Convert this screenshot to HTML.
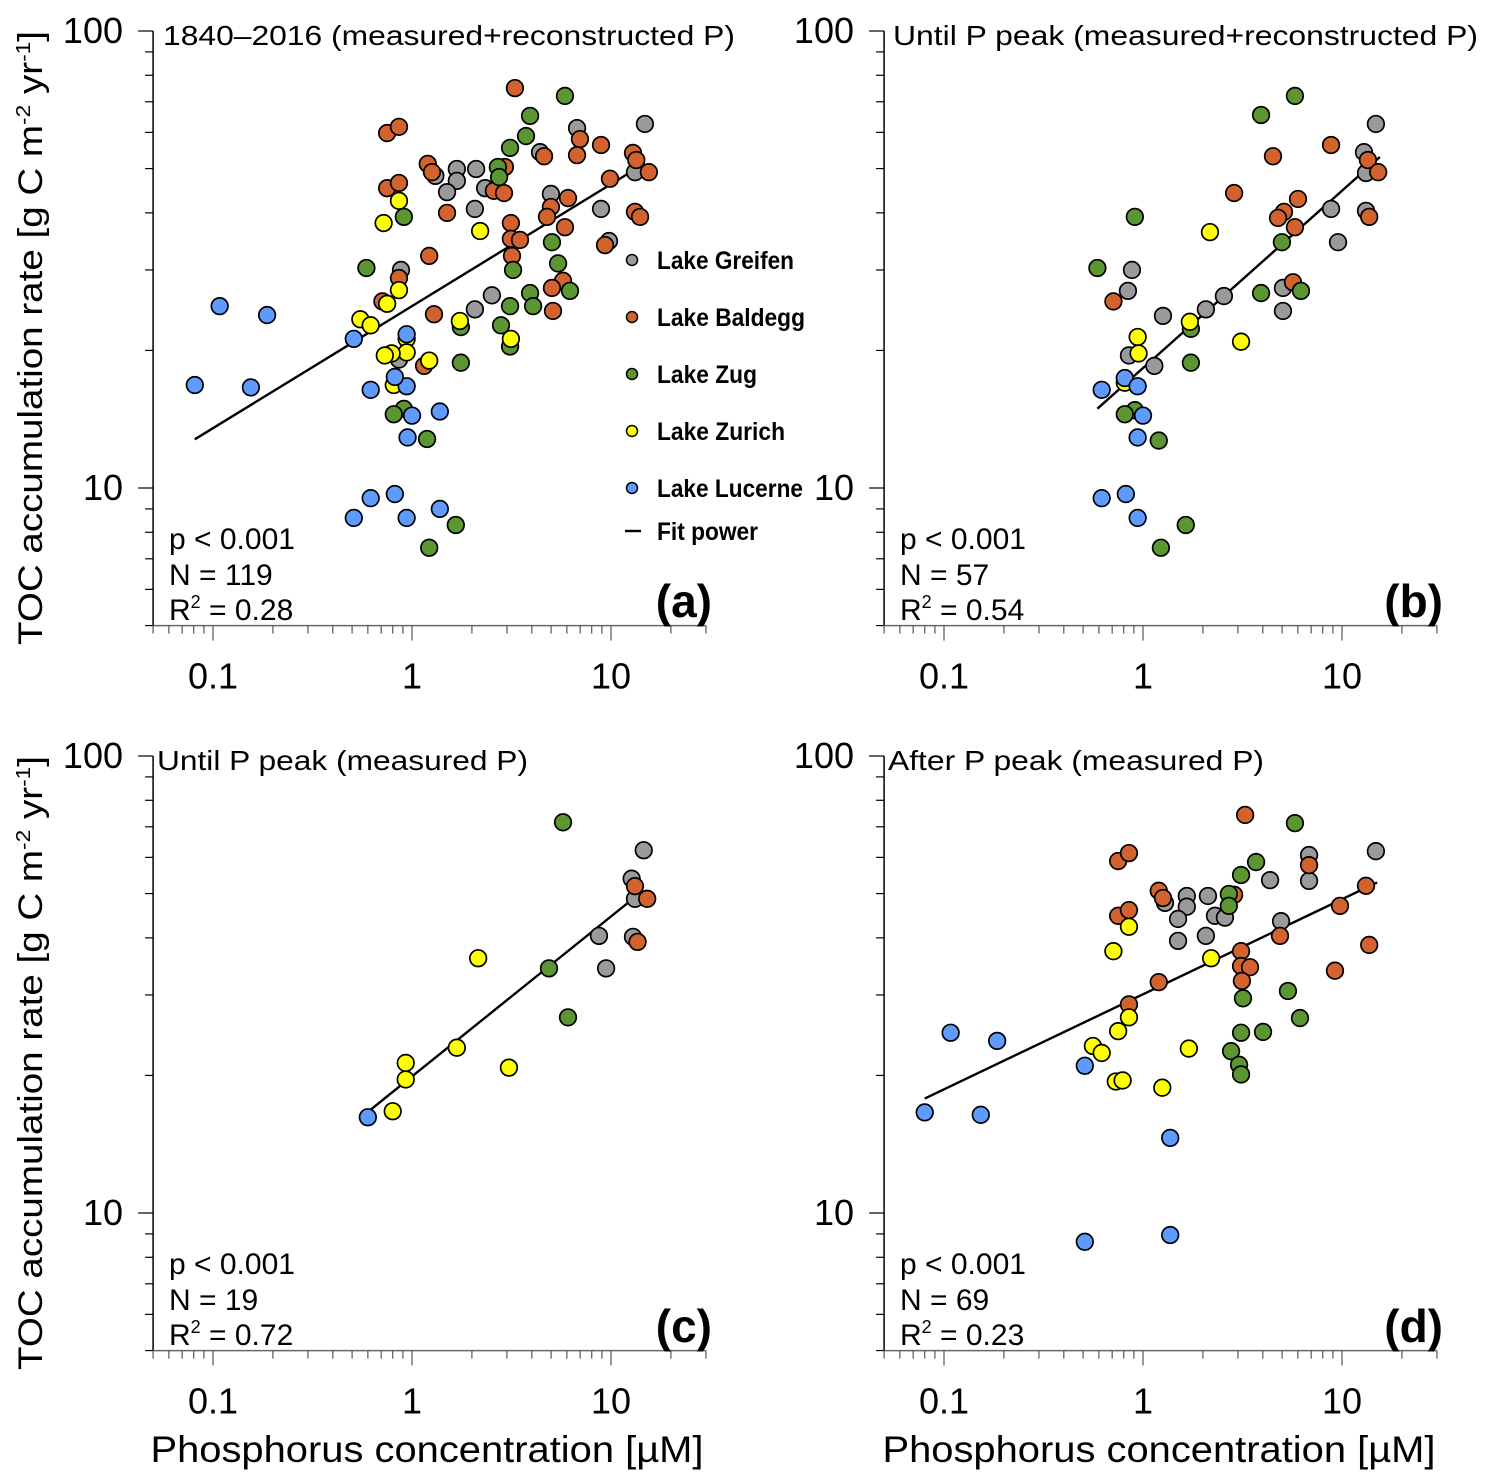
<!DOCTYPE html>
<html><head><meta charset="utf-8"><style>
html,body{margin:0;padding:0;background:#fff;}
svg{display:block;font-family:"Liberation Sans",Arial,sans-serif;}
</style></head><body>
<svg id="fig" width="1490" height="1484" viewBox="0 0 1490 1484" xmlns="http://www.w3.org/2000/svg"></svg>
<script>
// ---- data: [P (µM), TOC (g C m-2 yr-1)] ----
const lakes = ["Lake Greifen","Lake Baldegg","Lake Zug","Lake Zurich","Lake Lucerne"];
const colors = ["#9a9a9a","#d2632f","#5b9632","#ffff00","#5f9bff"];

const aGreifen = [[0.88,30.0],[6.75,61.3],[14.8,62.6],[4.4,54.3],[1.31,48.2],[1.68,49.9],[1.68,47.0],[2.1,49.9],[2.33,45.3],[1.5,44.4],[13.2,49.1],[4.99,44.0],[2.07,40.8],[8.91,40.8],[9.77,34.7],[2.52,26.4],[2.07,24.6],[0.86,19.1]];
const aBaldegg = [[0.75,59.8],[0.86,61.7],[0.75,45.3],[0.86,46.5],[1.2,51.2],[1.22,32.2],[0.86,28.8],[0.71,25.6],[1.15,18.5],[1.26,49.1],[3.29,75.0],[6.98,58.0],[8.91,56.3],[4.61,53.2],[6.75,53.5],[2.93,50.4],[2.58,44.7],[2.9,44.2],[12.9,54.1],[13.4,52.2],[15.5,49.1],[9.88,47.5],[6.08,43.1],[4.99,41.2],[4.77,39.2],[5.87,37.2],[1.5,40.0],[13.2,40.2],[14.0,39.2],[3.14,38.0],[3.14,35.1],[3.49,34.9],[3.18,32.2],[9.33,34.0],[5.74,28.4],[5.05,27.4],[5.11,24.4],[1.29,24.0]];
const aZug = [[0.91,39.2],[0.59,30.3],[0.91,14.9],[0.81,14.5],[1.19,12.8],[1.22,7.4],[1.66,8.3],[5.87,72.1],[3.92,65.2],[3.74,58.9],[3.11,55.5],[2.7,50.4],[2.74,47.9],[5.05,34.5],[5.42,31.0],[3.22,30.0],[6.22,27.0],[3.92,26.7],[4.06,25.0],[3.11,25.0],[1.76,22.5],[2.8,22.7],[3.11,20.4],[1.76,18.8]];
const aZurich = [[0.86,42.5],[0.72,38.0],[0.86,27.1],[0.75,25.3],[0.55,23.4],[0.62,22.7],[0.94,21.2],[0.94,19.8],[0.79,19.7],[0.73,19.5],[0.81,16.8],[1.22,19.0],[2.2,36.5],[1.74,23.2],[3.14,21.2]];
const aLucerne = [[0.108,25.0],[0.187,23.9],[0.081,16.8],[0.155,16.6],[0.51,21.2],[0.62,16.4],[0.94,16.7],[0.82,17.5],[1.0,14.4],[0.95,12.9],[0.94,21.7],[0.62,9.5],[0.82,9.7],[0.51,8.6],[0.94,8.6],[1.38,9.0],[1.38,14.7]];

const bGreifen = [[14.8,62.6],[12.9,54.3],[13.2,48.9],[8.81,40.8],[13.2,40.4],[9.55,34.5],[0.88,30.0],[0.84,27.0],[5.05,27.4],[2.55,26.3],[2.07,24.6],[5.05,24.4],[1.26,23.8],[0.85,19.5],[1.14,18.5]];
const bBaldegg = [[8.81,56.3],[4.5,53.2],[13.5,52.2],[15.2,49.1],[2.87,44.2],[6.01,42.9],[13.7,39.2],[5.11,40.2],[4.77,39.0],[5.8,37.2],[0.71,25.6],[5.67,28.2]];
const bZug = [[5.8,72.1],[3.92,65.5],[0.91,39.2],[4.99,34.5],[0.59,30.3],[3.92,26.7],[6.22,27.0],[1.74,22.3],[1.74,18.8],[0.91,14.8],[0.81,14.5],[1.2,12.7],[1.64,8.3],[1.23,7.4]];
const bZurich = [[2.17,36.3],[1.72,23.1],[0.94,21.4],[0.95,19.7],[3.11,20.9],[0.81,17.0]];
const bLucerne = [[0.81,17.4],[0.94,16.7],[0.62,16.4],[1.0,14.4],[0.94,12.9],[0.62,9.5],[0.82,9.7],[0.94,8.6]];

const cGreifen = [[8.7,40.4],[9.45,34.3],[14.6,62.2],[12.7,53.9],[13.2,48.7],[12.9,40.2]];
const cBaldegg = [[13.2,51.9],[13.6,39.2],[15.2,48.7]];
const cZug = [[4.88,34.3],[6.08,26.8],[5.74,71.6]];
const cZurich = [[0.8,16.7],[0.93,19.6],[0.93,21.3],[1.68,23.0],[3.07,20.8],[2.15,36.1]];
const cLucerne = [[0.6,16.2]];

const dGreifen = [[1.29,47.7],[1.66,49.4],[1.66,46.8],[1.5,44.0],[1.5,39.4],[6.83,60.7],[14.8,61.9],[6.83,53.3],[4.35,53.5],[2.12,49.4],[2.3,44.7],[2.58,44.3],[2.07,40.4],[4.94,43.5]];
const dBaldegg = [[0.75,58.9],[0.85,61.3],[0.75,44.7],[0.85,46.0],[1.2,50.7],[1.26,48.9],[1.2,32.0],[0.85,28.6],[3.26,74.3],[6.83,57.7],[13.2,52.0],[9.77,47.0],[2.87,49.7],[4.88,40.4],[13.7,38.6],[3.11,37.4],[3.11,34.7],[3.45,34.5],[3.14,32.2],[9.22,33.9]];
const dZug = [[5.8,71.3],[3.7,58.6],[3.11,54.9],[2.7,49.9],[2.7,47.0],[3.18,29.5],[5.35,30.6],[6.15,26.7],[3.11,24.8],[4.01,24.9],[2.77,22.6],[3.04,21.1],[3.11,20.1]];
const dZurich = [[0.85,42.3],[0.71,37.4],[0.85,26.8],[0.75,25.0],[0.56,23.2],[0.62,22.4],[0.73,19.4],[0.79,19.5],[1.25,18.8],[1.7,22.9],[2.2,36.1]];
const dLucerne = [[0.108,24.8],[0.185,23.8],[0.08,16.6],[0.153,16.4],[0.51,21.0],[1.37,14.6],[0.51,8.65],[1.37,8.95]];

// fit: TOC = a * P^b over [pmin, pmax]
const fitA = [25.0, 18.3, 19.9, 30.1];
const fitB = [0.267, 0.388, 0.350, 0.208];
const fitMin = [0.081, 0.59, 0.60, 0.080];
const fitMax = [13.0, 15.5, 13.8, 15.0];

const statN = ["119","57","19","69"];
const statR2 = ["0.28","0.54","0.72","0.23"];
const panelTitles = ["1840\u20132016 (measured+reconstructed P)","Until P peak (measured+reconstructed P)","Until P peak (measured P)","After P peak (measured P)"];
const panelLetters = ["(a)","(b)","(c)","(d)"];
const xTicks = [0.1, 1, 10];
const xTickLabels = ["0.1","1","10"];
const yTicks = [10, 100];
const yTickLabels = ["10","100"];

const NS = "http://www.w3.org/2000/svg";
const svg = document.getElementById("fig");
function mk(tag, attrs, parent, text){
  const e = document.createElementNS(NS, tag);
  for (const k in attrs) e.setAttribute(k, attrs[k]);
  if (text !== undefined) e.textContent = text;
  (parent || svg).appendChild(e);
  return e;
}

const panels = [
  {ox:0, oy:0, data:[aGreifen,aBaldegg,aZug,aZurich,aLucerne], titleLen:572},
  {ox:731, oy:0, data:[bGreifen,bBaldegg,bZug,bZurich,bLucerne], titleLen:585},
  {ox:0, oy:725, data:[cGreifen,cBaldegg,cZug,cZurich,cLucerne], titleLen:371},
  {ox:731, oy:725, data:[dGreifen,dBaldegg,dZug,dZurich,dLucerne], titleLen:376}
];
const titleX = [163, 893, 157, 888];

panels.forEach((p, i) => {
  const g = mk("g", {});
  
  
  const X = v => p.ox + 412 + 199 * Math.log10(v);
  const Y = v => p.oy + 31 + 457 * (2 - Math.log10(v));
  const xL = X(0.05), xR = X(30), yT = Y(100), yB = Y(5);

  const ya = mk("line", {x1:xL, y1:yT, x2:xL, y2:yB, stroke:"#000", "stroke-width":1.5}, g);
  
  
  for (let d = 1; d <= 100; d *= 10) {
    for (let m = 1; m < 10; m++) {
      const v = d * m;
      if (v < 5 || v > 100) continue;
      const major = (m === 1);
      mk("line", {x1:xL - (major ? 15 : 8), y1:Y(v), x2:xL, y2:Y(v), stroke:"#000", "stroke-width":1.2}, g);
    }
  }
  yTicks.forEach((v, k) => {
    const t = mk("text", {x:p.ox + 123, y:Y(v) + 12, "text-anchor":"end", "font-size":36}, g, yTickLabels[k]);
    
    
  });
  const xa = mk("line", {x1:xL, y1:yB, x2:xR, y2:yB, stroke:"#666", "stroke-width":1.5}, g);
  
  
  for (let d = 0.01; d <= 10; d *= 10) {
    for (let m = 1; m < 10; m++) {
      const v = d * m;
      if (v < 0.0499 || v > 30.01) continue;
      const major = (m === 1);
      mk("line", {x1:X(v), y1:yB, x2:X(v), y2:yB + (major ? 15 : 8), stroke:"#555", "stroke-width":1.2}, g);
    }
  }
  xTicks.forEach((v, k) => {
    const t = mk("text", {x:X(v), y:yB + 63, "text-anchor":"middle", "font-size":36}, g, xTickLabels[k]);
    
    
  });

  const tt = mk("text", {x:titleX[i], y:p.oy + 45, "font-size":28, textLength:p.titleLen, lengthAdjust:"spacingAndGlyphs"}, g, panelTitles[i]);
  
  

  const fl = mk("line", {x1:X(fitMin[i]), y1:Y(fitA[i]*Math.pow(fitMin[i], fitB[i])), x2:X(fitMax[i]), y2:Y(fitA[i]*Math.pow(fitMax[i], fitB[i])), stroke:"#000", "stroke-width":2.4}, g);
  
  

  p.data.forEach((series, li) => {
    series.forEach(pt => {
      const c = mk("circle", {cx:X(pt[0]), cy:Y(pt[1]), r:8.3, fill:colors[li], stroke:"#000", "stroke-width":1.7}, g);
      
      
    });
  });

  const sx = p.ox + 169;
  const s1 = mk("text", {x:sx, y:p.oy + 549, "font-size":30}, g, "p < 0.001");
  
  
  const s2 = mk("text", {x:sx, y:p.oy + 585, "font-size":30}, g, "N = " + statN[i]);
  
  
  const s3 = mk("text", {x:sx, y:p.oy + 620, "font-size":30}, g);
  
  
  mk("tspan", {}, s3, "R");
  mk("tspan", {"font-size":18, dy:-12}, s3, "2");
  mk("tspan", {dy:12}, s3, " = " + statR2[i]);

  const lt = mk("text", {x:p.ox + 712, y:p.oy + 617, "text-anchor":"end", "font-size":46, "font-weight":"bold"}, g, panelLetters[i]);
  
  
});

// legend
const lg = mk("g", {});


const legY = [260, 317, 374, 431, 488];
const legLen = [137, 148, 100, 128, 146];
lakes.forEach((name, k) => {
  const e = mk("g", {}, lg);
  
  
  mk("circle", {cx:632, cy:legY[k], r:5.5, fill:colors[k], stroke:"#000", "stroke-width":1.5}, e);
  mk("text", {x:657, y:legY[k] + 9, "font-size":25, "font-weight":"bold", textLength:legLen[k], lengthAdjust:"spacingAndGlyphs"}, e, name);
});
const fe = mk("g", {}, lg);


mk("line", {x1:625, y1:531, x2:641, y2:531, stroke:"#000", "stroke-width":2.4}, fe);
mk("text", {x:657, y:540, "font-size":25, "font-weight":"bold", textLength:101, lengthAdjust:"spacingAndGlyphs"}, fe, "Fit power");

// axis titles
[338, 1063].forEach(cy => {
  const t = mk("text", {x:0, y:0, transform:"translate(42," + cy + ") rotate(-90)", "text-anchor":"middle", "font-size":34, textLength:614, lengthAdjust:"spacingAndGlyphs"});
  
  
  mk("tspan", {}, t, "TOC accumulation rate [g C m");
  mk("tspan", {"font-size":20, dy:-12}, t, "-2");
  mk("tspan", {dy:12}, t, " yr");
  mk("tspan", {"font-size":20, dy:-12}, t, "-1");
  mk("tspan", {dy:12}, t, "]");
});
[427, 1159].forEach(cx => {
  const t = mk("text", {x:cx, y:1462, "text-anchor":"middle", "font-size":37, textLength:553, lengthAdjust:"spacingAndGlyphs"}, svg, "Phosphorus concentration [\u00b5M]");
  
  
});
</script>
</body></html>
